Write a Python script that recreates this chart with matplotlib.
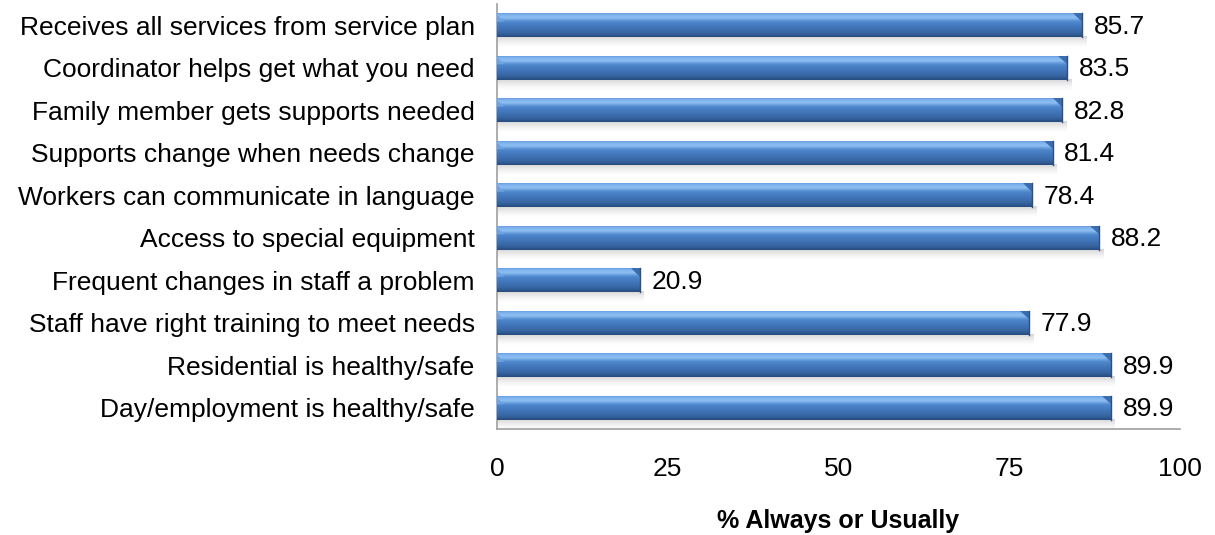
import numpy as np
import matplotlib
matplotlib.use("Agg")
import matplotlib.pyplot as plt
from matplotlib.colors import LinearSegmentedColormap
from matplotlib.patches import Polygon

plt.rcParams['font.family'] = ['Liberation Sans', 'DejaVu Sans']

# data, top to bottom as in the chart
labels = [
    "Receives all services from service plan",
    "Coordinator helps get what you need",
    "Family member gets supports needed",
    "Supports change when needs change",
    "Workers can communicate in language",
    "Access to special equipment",
    "Frequent changes in staff a problem",
    "Staff have right training to meet needs",
    "Residential is healthy/safe",
    "Day/employment is healthy/safe",
]
values = [85.7, 83.5, 82.8, 81.4, 78.4, 88.2, 20.9, 77.9, 89.9, 89.9]
xticks = [0, 25, 50, 75, 100]

fig = plt.figure(figsize=(12.15, 5.35), dpi=100)
ax = fig.add_axes([0.409, 0.198, 0.562, 0.7945])

# vertical gradient (row 0 = top of bar) to fake the shaded look of the bars
cmap = LinearSegmentedColormap.from_list(
    "barshade",
    [(0.0, "#5b92d9"), (0.1, "#7fb3ee"), (0.22, "#8ec0f3"), (0.38, "#4f88cd"),
     (0.6, "#4276bb"), (0.85, "#36649f"), (1.0, "#264a7e")])
grad = np.linspace(0, 1, 64).reshape(-1, 1)

# gray shadow that fades out below each bar
shade = np.zeros((32, 1, 4))
shade[..., :3] = 0.45
shade[:, 0, 3] = np.linspace(0.45, 0.0, 32) ** 1.5

ypos = np.arange(len(labels))
height = 0.57
bars = ax.barh(ypos, values, height=height, color="#4a86c8", edgecolor="none", zorder=2)

for b in bars:
    x0, y0 = b.get_x(), b.get_y()
    w, h = b.get_width(), b.get_height()
    y1 = y0 + h
    ax.imshow(shade, extent=[x0, x0 + w + 0.6, y1 + 0.25, y1 - 0.02], aspect="auto",
              zorder=1, interpolation="bilinear")
    im = ax.imshow(grad, extent=[x0, x0 + w, y1, y0], aspect="auto",
                   cmap=cmap, zorder=3, interpolation="bicubic")
    im.set_clip_path(b)
    # bevel facets at the bar ends
    ax.add_patch(Polygon([(x0 + w - 1.3, y0), (x0 + w, y0), (x0 + w, y0 + 0.2)],
                         closed=True, color="#3b6cad", lw=0, zorder=4))
    ax.add_patch(Polygon([(x0, y0 + 0.05), (x0 + 1.1, y0 + 0.2), (x0, y0 + 0.2)],
                         closed=True, color="#6ea3e2", lw=0, zorder=4))
    ax.plot([x0 + w, x0 + w], [y0, y1], color="#2a5088", lw=1.0, zorder=4)

for y, v in zip(ypos, values):
    ax.text(v + 1.7, y + 0.03, f"{v:.1f}", va="center", ha="left", fontsize=19, color="#000000")

ax.set_yticks(ypos)
ax.set_yticklabels(labels, fontsize=19)
ax.set_ylim(len(labels) - 0.5, -0.5)
ax.set_xlim(0, 100)
ax.set_xticks(xticks)
ax.set_xticklabels([str(t) for t in xticks], fontsize=19)
ax.tick_params(axis="x", length=0, pad=20)
ax.tick_params(axis="y", length=0, pad=16)

for s in ["top", "right"]:
    ax.spines[s].set_visible(False)
for s in ["left", "bottom"]:
    ax.spines[s].set_color("#a0a0a0")
    ax.spines[s].set_linewidth(1.2)

ax.set_xlabel("% Always or Usually", fontsize=18, fontweight="bold", labelpad=20)

fig.savefig("out.png", dpi=100)
